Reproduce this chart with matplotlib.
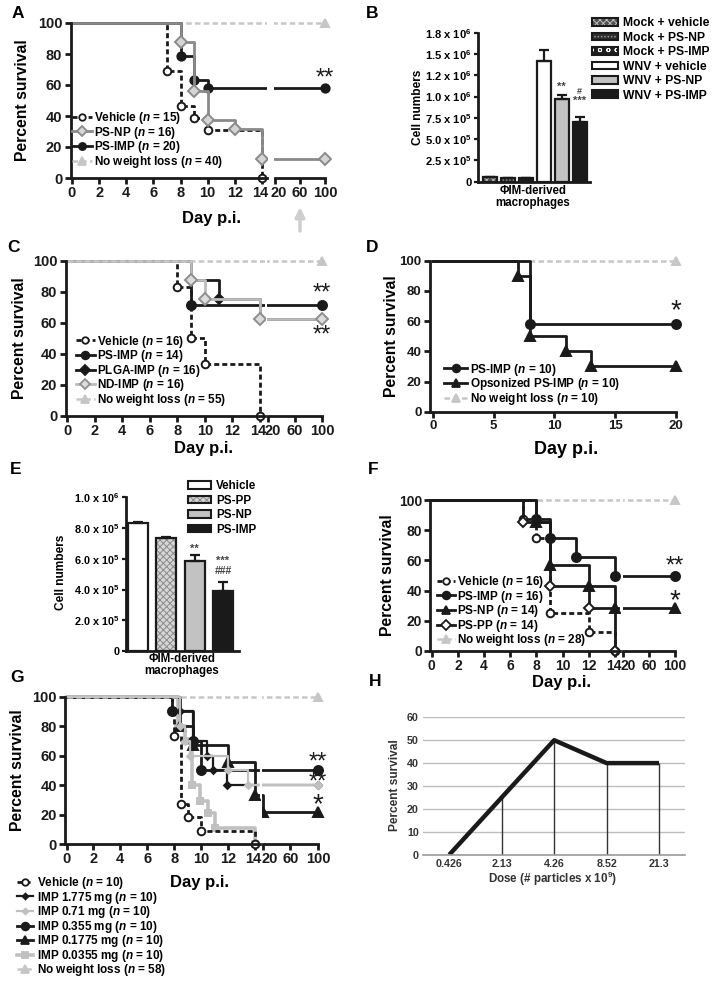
import matplotlib
matplotlib.use('Agg')
import matplotlib.pyplot as plt
import matplotlib.transforms as mtransforms
from matplotlib.lines import Line2D
from matplotlib.patches import Patch

W, H = 713, 982

# ---------------- data ----------------
# A: survival, Vehicle / PS-NP / PS-IMP / no weight loss
a_veh_t = [0, 7, 8, 9, 10, 14]
a_veh_s = [100, 69.2, 46.2, 38.5, 30.8, 0]
a_np_t = [0, 8, 9, 10, 12, 14, 100]
a_np_s = [100, 87.5, 56.3, 37.5, 31.3, 12.5, 12.5]
a_imp_t = [0, 8, 9, 10, 100]
a_imp_s = [100, 78.9, 63.2, 57.9, 57.9]
a_nwl_t = [0, 100]
a_nwl_s = [100, 100]
a_labels = ['Vehicle ($\\mathit{n}$ = 15)', 'PS-NP ($\\mathit{n}$ = 16)',
            'PS-IMP ($\\mathit{n}$ = 20)', 'No weight loss ($\\mathit{n}$ = 40)']

# B: bars
b_groups = ['Mock + vehicle', 'Mock + PS-NP', 'Mock + PS-IMP',
            'WNV + vehicle', 'WNV + PS-NP', 'WNV + PS-IMP']
b_vals = [0.05e6, 0.04e6, 0.04e6, 1.42e6, 0.97e6, 0.705e6]
b_errs = [0.01e6, 0.005e6, 0.005e6, 0.13e6, 0.05e6, 0.05e6]
b_ticks = [0, 0.25e6, 0.5e6, 0.75e6, 1.0e6, 1.25e6, 1.5e6, 1.75e6]
b_ticklabels = ['0', '2.5 x 10$^{\\mathbf{5}}$', '5.0 x 10$^{\\mathbf{5}}$',
                '7.5 x 10$^{\\mathbf{5}}$', '1.0 x 10$^{\\mathbf{6}}$',
                '1.2 x 10$^{\\mathbf{6}}$', '1.5 x 10$^{\\mathbf{6}}$',
                '1.8 x 10$^{\\mathbf{6}}$']

# C
c_veh_t = [0, 8, 9, 10, 14]
c_veh_s = [100, 83.3, 50, 33.3, 0]
c_imp_t = [0, 9, 100]
c_imp_s = [100, 71.4, 71.4]
c_plga_t = [0, 9, 11, 14, 100]
c_plga_s = [100, 87.5, 75, 62.5, 62.5]
c_nd_t = [0, 9, 10, 14, 100]
c_nd_s = [100, 87.5, 75, 62.5, 62.5]
c_nwl_t = [0, 100]
c_nwl_s = [100, 100]
c_labels = ['Vehicle ($\\mathit{n}$ = 16)', 'PS-IMP ($\\mathit{n}$ = 14)',
            'PLGA-IMP ($\\mathit{n}$ = 16)', 'ND-IMP ($\\mathit{n}$ = 16)',
            'No weight loss ($\\mathit{n}$ = 55)']

# D
d_imp_t = [0, 8, 20]
d_imp_s = [100, 58.3, 58.3]
d_ops_t = [0, 7, 8, 11, 13, 20]
d_ops_s = [100, 90, 50, 40, 30, 30]
d_nwl_t = [0, 20]
d_nwl_s = [100, 100]
d_labels = ['PS-IMP ($\\mathit{n}$ = 10)', 'Opsonized PS-IMP ($\\mathit{n}$ = 10)',
            'No weight loss ($\\mathit{n}$ = 10)']

# E: bars
e_groups = ['Vehicle', 'PS-PP', 'PS-NP', 'PS-IMP']
e_vals = [0.83e6, 0.733e6, 0.586e6, 0.39e6]
e_errs = [0.012e6, 0.006e6, 0.04e6, 0.06e6]
e_ticks = [0, 2e5, 4e5, 6e5, 8e5, 1e6]
e_ticklabels = ['0', '2.0 x 10$^{\\mathbf{5}}$', '4.0 x 10$^{\\mathbf{5}}$',
                '6.0 x 10$^{\\mathbf{5}}$', '8.0 x 10$^{\\mathbf{5}}$',
                '1.0 x 10$^{\\mathbf{6}}$']

# F
f_veh_t = [0, 7, 8, 9, 12, 14]
f_veh_s = [100, 87.5, 75, 25, 12.5, 0]
f_imp_t = [0, 8, 9, 11, 14, 100]
f_imp_s = [100, 87.5, 75, 62.5, 50, 50]
f_np_t = [0, 8, 9, 12, 14, 100]
f_np_s = [100, 85.7, 57.1, 42.9, 28.6, 28.6]
f_pp_t = [0, 7, 9, 12, 14]
f_pp_s = [100, 85.7, 42.9, 28.6, 0]
f_nwl_t = [0, 100]
f_nwl_s = [100, 100]
f_labels = ['Vehicle ($\\mathit{n}$ = 16)', 'PS-IMP ($\\mathit{n}$ = 16)',
            'PS-NP ($\\mathit{n}$ = 14)', 'PS-PP ($\\mathit{n}$ = 14)',
            'No weight loss ($\\mathit{n}$ = 28)']

# G
g_veh_t = [0, 7.8, 8, 8.5, 9, 10, 14]
g_veh_s = [100, 90, 73, 27, 18, 9, 0]
g_1775_t = [0, 8.4, 9.4, 10.4, 10.9, 11.9, 100]
g_1775_s = [100, 90, 70, 60, 50, 40, 40]
g_071_t = [0, 8.4, 8.8, 9.2, 12, 13.5, 100]
g_071_s = [100, 80, 70, 60, 50, 40, 40]
g_0355_t = [0, 7.8, 9.4, 10, 100]
g_0355_s = [100, 90, 70, 50, 50]
g_01775_t = [0, 8.4, 9.4, 12, 14, 20, 100]
g_01775_s = [100, 80, 67, 56, 33, 22, 22]
g_00355_t = [0, 8.3, 8.8, 9.3, 9.9, 10.5, 11, 14]
g_00355_s = [100, 80, 70, 40, 29, 21, 11, 0]
g_nwl_t = [0, 100]
g_nwl_s = [100, 100]
g_labels = ['Vehicle ($\\mathit{n}$ = 10)', 'IMP 1.775 mg ($\\mathit{n}$ = 10)',
            'IMP 0.71 mg ($\\mathit{n}$ = 10)', 'IMP 0.355 mg ($\\mathit{n}$ = 10)',
            'IMP 0.1775 mg ($\\mathit{n}$ = 10)', 'IMP 0.0355 mg ($\\mathit{n}$ = 10)',
            'No weight loss ($\\mathit{n}$ = 58)']

# H
h_doses = ['0.426', '2.13', '4.26', '8.52', '21.3']
h_surv = [0, 25, 50, 40, 40]

# ---------------- style ----------------
plt.rcParams['font.family'] = ['Liberation Sans', 'DejaVu Sans']
plt.rcParams['font.weight'] = 'bold'
plt.rcParams['mathtext.fontset'] = 'custom'
plt.rcParams['mathtext.rm'] = 'Liberation Sans:bold'
plt.rcParams['mathtext.it'] = 'Liberation Sans:italic:bold'
plt.rcParams['mathtext.bf'] = 'Liberation Sans:bold'
plt.rcParams['hatch.linewidth'] = 0.7

BLACK = '#1a1a1a'
GRAY = '#8a8a8a'
LGRAY = '#c6c6c6'
VEH_LS = (0, (1.8, 1.1))
NWL_LS = (0, (2.2, 1.3))

fig = plt.figure(figsize=(W / 100, H / 100), dpi=100)


def place(xlim, xref, ylim, yref):
    # axes placed so that reference values land on given pixel positions
    (a, pa), (b, pb) = xref
    sx = (pb - pa) / (b - a)
    x0 = pa + (xlim[0] - a) * sx
    x1 = pa + (xlim[1] - a) * sx
    (c, pc), (d, pd) = yref
    sy = (pd - pc) / (d - c)
    yb = pc + (ylim[0] - c) * sy
    yt = pc + (ylim[1] - c) * sy
    ax = fig.add_axes([x0 / W, 1 - yb / H, (x1 - x0) / W, (yb - yt) / H])
    ax.set_xlim(xlim)
    ax.set_ylim(ylim)
    ax.patch.set_visible(False)
    return ax


def ptext(x, y, s, **kw):
    kw.setdefault('ha', 'center')
    kw.setdefault('va', 'center')
    return fig.text(x / W, 1 - y / H, s, **kw)


def nudge(label, dx):
    label.set_transform(label.get_transform() +
                        mtransforms.ScaledTranslation(dx / 100, 0, fig.dpi_scale_trans))


def style_km(ax, xticks, size, tail=False):
    for sp in ('top', 'right'):
        ax.spines[sp].set_visible(False)
    ax.spines['bottom'].set_position(('data', 0))
    for sp in ('left', 'bottom'):
        ax.spines[sp].set_linewidth(2)
        ax.spines[sp].set_color(BLACK)
    ax.set_xticks(xticks)
    ax.tick_params(width=2, length=4, labelsize=size, pad=2, color=BLACK,
                   labelcolor=BLACK)
    if tail:
        ax.spines['left'].set_visible(False)
        ax.set_yticks([])
        ax.spines['bottom'].set_bounds(20, 100)
        ax.set_xticks([20], minor=True)
        ax.tick_params(axis='x', which='minor', length=10, width=2,
                       direction='inout', color=BLACK)
    else:
        ax.set_yticks(range(0, 101, 20))
        ax.spines['left'].set_bounds(0, 100)


def km_axes(xmain, xtail, yref, size, shift=5):
    main = place((-0.1, 14.35), xmain, (-4, 104), yref)
    tail = place((19, 110), xtail, (-4, 104), yref)
    style_km(main, range(0, 15, 2), size)
    style_km(tail, [20, 60, 100], size, tail=True)
    nudge(main.get_xticklabels()[-1], -1.5)
    nudge(tail.get_xticklabels()[0], shift)
    return [main, tail]


def km(axes, t, s, color, ls='-', lw=2, marker='o', ms=6, mfc=None, mec=None):
    mfc = color if mfc is None else mfc
    mec = color if mec is None else mec
    for ax in axes:
        lo, hi = ax.get_xlim()
        marks = [i for i in range(1, len(t)) if lo <= t[i] <= hi]
        ax.plot(t, s, drawstyle='steps-post', color=color, ls=ls, lw=lw,
                marker=marker, ms=ms, mfc=mfc, mec=mec, mew=1.4, markevery=marks)
    return Line2D([], [], color=color, ls=ls, lw=lw, marker=marker, ms=ms * 0.85,
                  mfc=mfc, mec=mec, mew=1.3)


def km_legend(ax, handles, labels, x, y, hl, htp, ls=-0.12, fs=8.5):
    ax.legend(handles, labels, loc='upper left', bbox_to_anchor=(x / W, 1 - y / H),
              bbox_transform=fig.transFigure, frameon=False, fontsize=fs,
              handlelength=hl, handletextpad=htp, labelspacing=ls,
              borderpad=0, borderaxespad=0, numpoints=1)


def stars(ax, x, y, s):
    ax.text(x, y, s, fontsize=17 if len(s) > 1 else 20, fontweight='normal',
            ha='center', va='center', color=BLACK)


def bars(ax, vals, errs, faces, hatches, hcolors, width):
    for i, v in enumerate(vals):
        ax.bar(i, v, width, color=faces[i], edgecolor=hcolors[i], hatch=hatches[i], lw=0)
        ax.bar(i, v, width, fill=False, edgecolor=BLACK, lw=1.6)
    ax.errorbar(range(len(vals)), vals, yerr=[[0] * len(vals), errs], fmt='none',
                ecolor=BLACK, elinewidth=1.6, capsize=3.5, capthick=1.6)
    for sp in ('top', 'right'):
        ax.spines[sp].set_visible(False)
    for sp in ('left', 'bottom'):
        ax.spines[sp].set_linewidth(2)
        ax.spines[sp].set_color(BLACK)
    ax.set_xticks([])


def bar_handles(faces, hatches, hcolors):
    return [(Patch(facecolor=faces[i], edgecolor=hcolors[i], hatch=hatches[i], lw=0),
             Patch(fill=False, edgecolor=BLACK, lw=1.5)) for i in range(len(faces))]


# ---------------- A ----------------
axA = km_axes(((0, 72), (14, 262)), ((20, 275), (100, 325)), ((0, 178), (100, 23)), 10.5, 3.5)
hA = [None] * 4
hA[3] = km(axA, a_nwl_t, a_nwl_s, LGRAY, ls=NWL_LS, lw=1.8, marker='^', ms=6)
hA[0] = km(axA, a_veh_t, a_veh_s, BLACK, ls=VEH_LS, marker='o', ms=5.5, mfc='white')
hA[2] = km(axA, a_imp_t, a_imp_s, BLACK, marker='o', ms=6)
hA[1] = km(axA, a_np_t, a_np_s, GRAY, marker='D', ms=6, mfc='#d4d4d4')
km_legend(axA[0], hA, a_labels, 71.7, 110, 1.7, 0.22)
stars(axA[1], 100, 64, '**')
axA[1].annotate('', xy=(60, -17), xytext=(60, -36), annotation_clip=False,
                arrowprops=dict(arrowstyle='-|>', color='#cfcfcf', lw=2.5, mutation_scale=14))
ptext(23, 100, 'Percent survival', rotation=90, fontsize=11.3)
ptext(211, 218, 'Day p.i.', fontsize=12)

# ---------------- B ----------------
axB = place((-0.69, 5.57), ((0, 490.3), (5, 579.7)), (0, 1.75e6), ((0, 181.7), (1.75e6, 32.7)))
b_faces = ['#505050', '#2e2e2e', '#1e1e1e', 'white', '#c2c2c2', BLACK]
b_hatch = ['xxxxx', '.....', 'oo', None, None, None]
b_hcol = ['#bdbdbd', '#9a9a9a', 'white', BLACK, BLACK, BLACK]
bars(axB, b_vals, b_errs, b_faces, b_hatch, b_hcol, 0.78)
axB.set_yticks(b_ticks)
axB.set_yticklabels(b_ticklabels)
axB.tick_params(axis='y', width=1.6, length=3, labelsize=8, pad=1.5, color=BLACK)
axB.legend(bar_handles(b_faces, b_hatch, b_hcol), b_groups, loc='upper left',
           bbox_to_anchor=(591.7 / W, 1 - 17.5 / H), bbox_transform=fig.transFigure,
           frameon=False, fontsize=8.7, handlelength=2.2, handleheight=0.6,
           handletextpad=0.4, labelspacing=0.2, borderpad=0, borderaxespad=0)
axB.text(4, 1.109e6, '**', fontsize=8, color='#444444', ha='center', va='center')
axB.text(5, 1.065e6, '#', fontsize=6.5, color='#444444', ha='center', va='center')
axB.text(5, 0.95e6, '***', fontsize=8, color='#444444', ha='center', va='center')
ptext(418, 107, 'Cell numbers', rotation=90, fontsize=8.6)
ptext(533, 197, 'ΦIM-derived\nmacrophages', fontsize=8.3, linespacing=1.05)

# ---------------- C ----------------
axC = km_axes(((0, 67), (14, 260)), ((20, 268), (100, 322)), ((0, 415.7), (100, 260.7)), 10.5)
hC = [None] * 5
hC[0] = km(axC, c_veh_t, c_veh_s, BLACK, ls=VEH_LS, marker='o', ms=5.5, mfc='white')
hC[1] = km(axC, c_imp_t, c_imp_s, BLACK, marker='o', ms=6.5)
hC[2] = km(axC, c_plga_t, c_plga_s, BLACK, marker='D', ms=5.5)
hC[3] = km(axC, c_nd_t, c_nd_s, '#bcbcbc', marker='D', ms=6.5, mfc='#dcdcdc', mec='#8f8f8f')
hC[4] = km(axC, c_nwl_t, c_nwl_s, LGRAY, ls=NWL_LS, lw=1.8, marker='^', ms=6)
km_legend(axC[0], hC, c_labels, 76, 333.5, 1.6, 0.15)
stars(axC[1], 100, 78.5, '**')
stars(axC[1], 100, 51.5, '**')
ptext(20, 338, 'Percent survival', rotation=90, fontsize=11.3)
ptext(203, 449, 'Day p.i.', fontsize=12)

# ---------------- D ----------------
axD = place((-0.25, 21), ((0, 433), (20, 675.7)), (-4, 104), ((0, 411.7), (100, 260.7)))
style_km(axD, [0, 5, 10, 15, 20], 9.5)
axD.spines['bottom'].set_bounds(-0.25, 20)
hD = [None] * 3
hD[2] = km([axD], d_nwl_t, d_nwl_s, LGRAY, ls=NWL_LS, lw=1.8, marker='^', ms=6)
hD[0] = km([axD], d_imp_t, d_imp_s, BLACK, marker='o', ms=6.5)
hD[1] = km([axD], d_ops_t, d_ops_s, BLACK, marker='^', ms=6.5)
km_legend(axD, hD, d_labels, 444.3, 361.5, 1.95, 0.23)
stars(axD, 20, 66.5, '*')
ptext(392, 336, 'Percent survival', rotation=90, fontsize=11.3)
ptext(566, 449, 'Day p.i.', fontsize=13)

# ---------------- E ----------------
axE = place((-0.42, 3.56), ((0, 138), (3, 223)), (0, 1e6), ((0, 651), (1e6, 497.3)))
e_faces = ['white', '#d6d6d6', '#c2c2c2', BLACK]
e_hatch = [None, 'xxxxx', None, None]
e_hcol = [BLACK, '#8a8a8a', BLACK, BLACK]
bars(axE, e_vals, e_errs, e_faces, e_hatch, e_hcol, 0.71)
axE.set_yticks(e_ticks)
axE.set_yticklabels(e_ticklabels)
axE.tick_params(axis='y', width=1.6, length=3, labelsize=7.8, pad=1.5, color=BLACK)
axE.legend(bar_handles(e_faces, e_hatch, e_hcol), e_groups, loc='upper left',
           bbox_to_anchor=(188 / W, 1 - 480 / H), bbox_transform=fig.transFigure,
           frameon=False, fontsize=8.4, handlelength=2.0, handleheight=0.6,
           handletextpad=0.43, labelspacing=0.22, borderpad=0, borderaxespad=0)
axE.text(2, 0.662e6, '**', fontsize=8, color='#444444', ha='center', va='center')
axE.text(3, 0.585e6, '***', fontsize=8, color='#444444', ha='center', va='center')
axE.text(3, 0.52e6, '###', fontsize=7.5, color='#444444', ha='center', va='center')
ptext(60.7, 572, 'Cell numbers', rotation=90, fontsize=8.6)
ptext(181.7, 665, 'ΦIM-derived\nmacrophages', fontsize=8.3, linespacing=1.05)

# ---------------- F ----------------
axF = km_axes(((0, 431.7), (14, 615)), ((20, 623.3), (100, 675)), ((0, 651), (100, 500)), 10)
hF = [None] * 5
hF[4] = km(axF, f_nwl_t, f_nwl_s, LGRAY, ls=NWL_LS, lw=1.8, marker='^', ms=6)
hF[0] = km(axF, f_veh_t, f_veh_s, BLACK, ls=VEH_LS, marker='o', ms=5.5, mfc='white')
hF[1] = km(axF, f_imp_t, f_imp_s, BLACK, marker='o', ms=6.5)
hF[2] = km(axF, f_np_t, f_np_s, BLACK, marker='^', ms=6.5)
hF[3] = km(axF, f_pp_t, f_pp_s, BLACK, marker='D', ms=5.5, mfc='white')
km_legend(axF[0], hF, f_labels, 437.3, 574, 1.5, 0.2)
stars(axF[1], 100, 56, '**')
stars(axF[1], 100, 33, '*')
ptext(388, 575, 'Percent survival', rotation=90, fontsize=11.3)
ptext(562, 682, 'Day p.i.', fontsize=12)

# ---------------- G ----------------
axG = km_axes(((0, 66.5), (14, 255)), ((20, 262.5), (100, 318)), ((0, 844), (100, 696.7)), 10.5, 7)
hG = [None] * 7
hG[5] = km(axG, g_00355_t, g_00355_s, '#c0c0c0', lw=2.6, marker='s', ms=5)
hG[0] = km(axG, g_veh_t, g_veh_s, BLACK, ls=VEH_LS, marker='o', ms=5.5, mfc='white')
hG[1] = km(axG, g_1775_t, g_1775_s, BLACK, lw=1.6, marker='D', ms=3.5)
hG[3] = km(axG, g_0355_t, g_0355_s, BLACK, marker='o', ms=6.5)
hG[4] = km(axG, g_01775_t, g_01775_s, BLACK, marker='^', ms=6.5)
hG[2] = km(axG, g_071_t, g_071_s, '#c0c0c0', lw=1.6, marker='D', ms=3.5)
hG[6] = km(axG, g_nwl_t, g_nwl_s, LGRAY, ls=NWL_LS, lw=1.8, marker='^', ms=6)
km_legend(axG[0], hG, g_labels, 16.7, 875, 1.4, 0.28)
stars(axG[1], 100, 55.5, '**')
stars(axG[1], 100, 42, '**')
stars(axG[1], 100, 26.5, '*')
ptext(18, 770, 'Percent survival', rotation=90, fontsize=11.3)
ptext(200, 882, 'Day p.i.', fontsize=12)

# ---------------- H ----------------
axH = place((-0.5, 4.5), ((0, 449.3), (4, 659)), (0, 60), ((0, 854.7), (60, 717.3)))
for sp in ('top', 'right', 'left'):
    axH.spines[sp].set_visible(False)
axH.spines['bottom'].set_color('#9a9a9a')
axH.spines['bottom'].set_linewidth(1.2)
axH.set_yticks(range(0, 61, 10))
axH.yaxis.grid(True, color='#bdbdbd', lw=1)
axH.set_axisbelow(True)
axH.set_xticks(range(len(h_doses)))
axH.set_xticklabels(h_doses)
axH.tick_params(length=0, labelsize=7.7, labelcolor='#333333', pad=3)
axH.vlines(range(len(h_surv)), 0, h_surv, color='#333333', lw=1)
axH.plot(range(len(h_surv)), h_surv, color=BLACK, lw=3.2, solid_capstyle='butt')
ptext(395, 785, 'Percent survival', rotation=90, fontsize=8.6, color='#333333')
ptext(553, 878.5, 'Dose (# particles x 10$^{\\mathbf{9}}$)', fontsize=8.4, color='#333333')

# panel letters
for lab, x, y in [('A', 18, 13), ('B', 372, 13), ('C', 13, 247), ('D', 372, 247),
                  ('E', 16, 470), ('F', 373, 470), ('G', 17, 678), ('H', 375, 682)]:
    ptext(x, y, lab, fontsize=12.5)

fig.savefig('out.png', dpi=100)
